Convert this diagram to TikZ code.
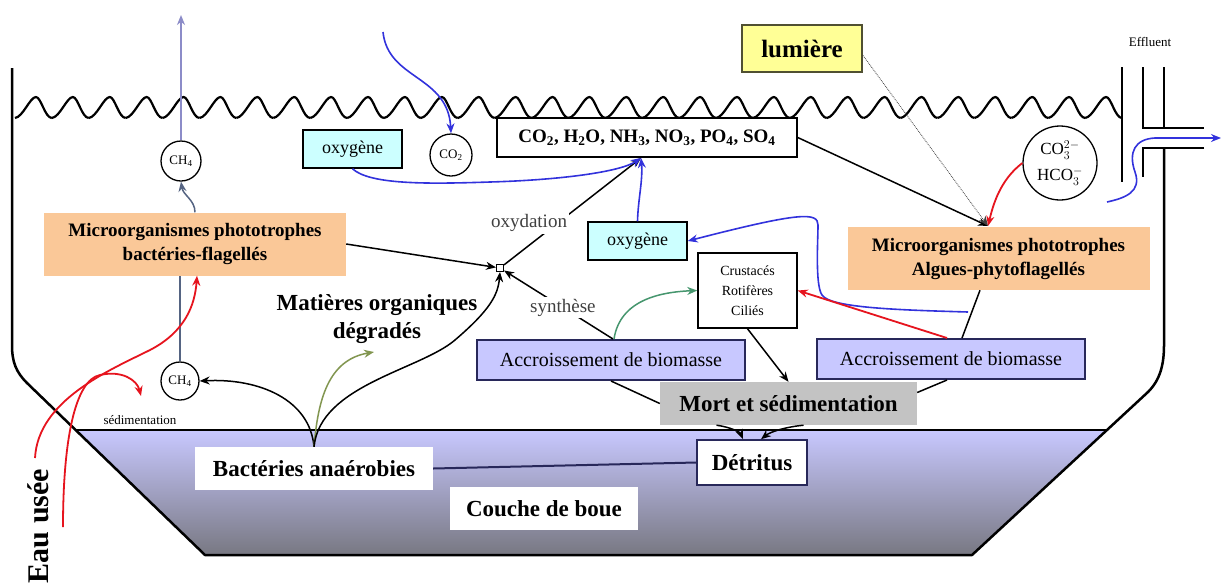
\documentclass[tikz,border=0pt]{standalone}
\usepackage{fontspec}
\setmainfont{Liberation Serif}
\usetikzlibrary{arrows.meta}
\newcommand\fsz[2]{\fontsize{#1}{#2}\selectfont}
\definecolor{orangec}{RGB}{250,200,152}
\definecolor{lavc}{RGB}{200,200,255}
\definecolor{navyc}{RGB}{40,40,90}
\definecolor{cyanc}{RGB}{204,255,255}
\definecolor{yelc}{RGB}{255,255,150}
\definecolor{yelb}{RGB}{80,80,50}
\definecolor{grayc}{RGB}{195,195,195}
\definecolor{bluec}{RGB}{50,50,220}
\definecolor{redc}{RGB}{230,20,30}
\definecolor{purpc}{RGB}{140,140,200}
\definecolor{slatec}{RGB}{85,100,130}
\definecolor{olivec}{RGB}{130,150,80}
\definecolor{tealc}{RGB}{70,150,110}
\definecolor{sludgetop}{RGB}{200,200,255}
\definecolor{sludgebot}{RGB}{120,120,130}
\begin{document}
\begin{tikzpicture}[x=1pt,y=-1pt,
  >={Stealth[length=10pt,width=8pt]},
  base/.style={inner sep=0pt, align=center},
  orangebox/.style={base, fill=orangec, minimum width=302pt, minimum height=63pt, font=\fsz{19}{24}\bfseries},
  cyanbox/.style={base, fill=cyanc, draw=black, line width=1.5pt, minimum width=99pt, minimum height=38pt, font=\fsz{18}{20}},
  lavbox/.style={base, fill=lavc, draw=navyc, line width=2pt, minimum width=268pt, minimum height=40pt, font=\fsz{20}{24}},
  bigtxt/.style={base, font=\fsz{23}{28}\bfseries},
  circ/.style={circle, draw=black, line width=1.3pt, inner sep=0pt, align=center, font=\fsz{13}{15}},
  lbl/.style={base, fill=white, inner sep=2pt, font=\fsz{19}{22}, text=darkgray},
  blk/.style={draw=black, line width=1.5pt},
  wall/.style={draw=black, line width=2.5pt},
  bluearr/.style={draw=bluec, line width=1.6pt, ->},
  redarr/.style={draw=redc, line width=1.8pt, ->},
]
\useasboundingbox (0,0) rectangle (1222,584);
\fill[white] (0,0) rectangle (1222,584);

% sludge layer
\shade[top color=sludgetop, bottom color=sludgebot] (76,430) -- (1107,430) -- (972,555) -- (205,555) -- cycle;
\draw[line width=2pt] (76,430) -- (1107,430);

% tank outline
\draw[wall, line join=round] (12,68) -- (12,345) .. controls (12,362) and (16,372) .. (27,383) -- (205,555) -- (972,555) -- (1148,392) .. controls (1160,380) and (1164,365) .. (1164,345) -- (1164,148);

% water surface
\foreach \i in {0,...,29}{
  \pgfmathsetmacro\xa{15+36.9*\i}
  \draw[line width=2.2pt, line join=round] (\xa,118) .. controls (\xa+8,117) and (\xa+15,97) .. (\xa+21,97) .. controls (\xa+26,97) and (\xa+30,118) .. (\xa+36.9,118);
}

% effluent pipe
\draw[line width=2pt] (1122,67) -- (1122,182);
\draw[line width=2pt] (1143,67) -- (1143,128) -- (1204,128);
\draw[line width=2pt] (1164,67) -- (1164,128);
\draw[line width=2pt] (1204,148) -- (1143,148) -- (1143,177);
\draw[line width=2pt] (1164,148) -- (1164,160);

% nodes
\node[base, fill=yelc, draw=yelb, line width=2pt, minimum width=120pt, minimum height=47pt, font=\fsz{25}{28}\bfseries] (lum) at (802,48.5) {lumière};
\node[base, font=\fsz{13}{15}] (eff) at (1150,42) {Effluent};
\node[base, fill=white, draw=black, line width=1.5pt, minimum width=300pt, minimum height=39pt, font=\fsz{19}{22}\bfseries] (chem) at (647,137.5) {CO\textsubscript{2}, H\textsubscript{2}O, NH\textsubscript{3}, NO\textsubscript{3}, PO\textsubscript{4}, SO\textsubscript{4}};
\node[circ, minimum size=42pt] (co2c) at (451,155) {CO\textsubscript{2}};
\node[cyanbox] (oxyL) at (352.5,149) {oxygène};
\node[circ, minimum size=40pt] (ch4t) at (181,161) {CH\textsubscript{4}};
\node[circ, minimum size=38pt] (ch4b) at (180,381) {CH\textsubscript{4}};
\node[orangebox] (orgL) at (195,244) {Microorganismes phototrophes\\bactéries-flagellés};
\node[orangebox] (orgR) at (998.5,258.5) {Microorganismes phototrophes\\Algues-phytoflagellés};
\node[cyanbox] (oxyR) at (637.5,241) {oxygène};
\node[base, draw=black, fill=white, line width=1pt, minimum size=7pt] (junc) at (500,268) {};
\node[bigtxt] (mat) at (377,319) {Matières organiques\\dégradés};
\node[base, fill=white, draw=black, line width=1.5pt, minimum width=99pt, minimum height=75pt, font=\fsz{14}{20}] (crus) at (747.5,290.5) {Crustacés\\Rotifères\\Ciliés};
\node[lavbox] (accL) at (611,360) {Accroissement de biomasse};
\node[lavbox] (accR) at (951,359) {Accroissement de biomasse};
\node[bigtxt, fill=grayc, minimum width=257pt, minimum height=43pt] (mort) at (788.5,403.5) {Mort et sédimentation};
\node[bigtxt, fill=white, draw=navyc, line width=1.5pt, minimum width=110pt, minimum height=45pt] (detr) at (752,462.5) {Détritus};
\node[bigtxt, fill=white, minimum width=238pt, minimum height=43pt] (bact) at (314,468.5) {Bactéries anaérobies};
\node[bigtxt, fill=white, minimum width=188pt, minimum height=43pt] (couche) at (544,508.5) {Couche de boue};
\node[base, rotate=90, font=\fsz{30}{34}\bfseries] (eau) at (38,526) {Eau usée};
\node[base, font=\fsz{13}{15}] (sedi) at (140,420) {sédimentation};
\node[circ, minimum size=74pt, font=\fsz{17}{26}] (co3c) at (1060,163) {CO$_3^{2-}$\\HCO$_3^{-}$};

% free ends
\coordinate (ch4top) at (181,15);
\coordinate (bluetop) at (383,32);
\coordinate (chemin) at (641,158);
\coordinate (conv) at (988,226);
\coordinate (bj) at (968,312);
\coordinate (olivend) at (374,352);
\coordinate (r1s) at (35,458);
\coordinate (r2s) at (63,527);
\coordinate (sedtip) at (141,396);
\coordinate (effs) at (1107,202);
\coordinate (effe) at (1221,138);

% connectors
\draw[draw=purpc, line width=1.8pt, ->] (ch4t.north) -- (ch4top);
\draw[draw=slatec, line width=1.5pt, ->] (orgL.north) .. controls (195,200) and (183,195) .. (ch4t.south);
\draw[draw=slatec, line width=1.5pt] (ch4b.north) -- (ch4b.north |- orgL.south);

\draw[blk, ->] (bact.north) .. controls (310,400) and (260,378) .. (ch4b.east);
\draw[draw=olivec, line width=1.5pt, ->] (bact.north) .. controls (318,400) and (328,360) .. (olivend);
\draw[blk, ->] (bact.north) .. controls (320,385) and (420,370) .. (455,340) .. controls (490,310) and (498,295) .. (junc.south);

\draw[blk, ->] (orgL.east) -- (junc);
\draw[blk, ->] ([xshift=2pt]accL.north) -- (junc) node[lbl, pos=0.46] {synthèse};
\draw[blk, ->] (junc) -- (chemin);
\node[lbl] (oxyd) at (529,223) {oxydation};

\draw[bluearr] (bluetop) .. controls (388,80) and (448,75) .. (co2c.north);
\draw[bluearr] (oxyL.south) .. controls (370,185) and (430,184) .. (490,182) .. controls (560,180) and (620,172) .. (chemin);
\draw[bluearr] (oxyR.north) .. controls (638,200) and (643,180) .. (chemin);

\draw[blk, ->] (chem.east) -- (conv);
\draw[draw=darkgray, line width=0.8pt, densely dotted, ->] ([yshift=-7pt]lum.east) -- (conv);
\draw[redarr] (co3c.west) .. controls (1000,180) and (993,205) .. (conv);

\draw[blk] ([xshift=-18.5pt]orgR.south) -- ([xshift=11pt]accR.north);
\draw[bluearr] (bj) .. controls (900,310) and (830,308) .. (822,295) .. controls (815,285) and (818,240) .. (818,225) .. controls (818,212) and (800,212) .. (oxyR.east);
\draw[redarr] ([xshift=-4pt]accR.north) -- (crus.east);
\draw[draw=tealc, line width=1.5pt, ->] ([xshift=3pt]accL.north) .. controls (620,300) and (660,292) .. (crus.west);
\draw[blk, ->] (crus.south) -- (mort.north);
\draw[blk] (accL.south) -- (mort.west);
\draw[blk] ([xshift=-4pt]accR.south) -- ([yshift=11pt]mort.east);
\draw[blk, ->] ([xshift=-72pt]mort.south) .. controls (730,427) and (740,432) .. ([xshift=-9pt]detr.north);
\draw[blk, ->] ([xshift=15pt]mort.south) .. controls (785,427) and (770,432) .. ([xshift=9pt]detr.north);
\draw[draw=navyc, line width=2pt] (bact.east) -- (detr.west);

\draw[redarr] (r1s) .. controls (38,400) and (110,370) .. (150,350) .. controls (185,332) and (195,305) .. ([xshift=2pt]orgL.south);
\draw[redarr] (r2s) .. controls (63,440) and (75,380) .. (100,375) .. controls (122,370) and (137,380) .. (sedtip);

\draw[bluearr] (effs) .. controls (1125,198) and (1142,192) .. (1135,172) .. controls (1128,152) and (1135,139) .. (1155,138) -- (effe);
\end{tikzpicture}
\end{document}
